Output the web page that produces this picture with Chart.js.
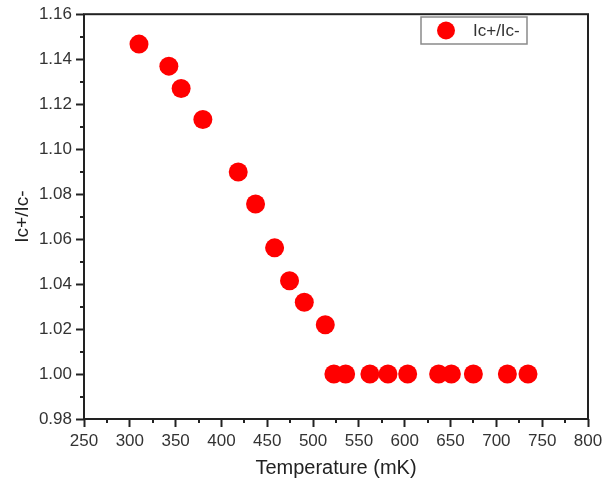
<!DOCTYPE html>
<html>
<head>
<meta charset="utf-8">
<script src="https://cdn.jsdelivr.net/npm/chart.js@4.4.1/dist/chart.umd.min.js"></script>
<style>
  html, body { margin: 0; padding: 0; background: #fff; }
  #wrap { width: 611px; height: 482px; }
</style>
</head>
<body>
<div id="wrap"><canvas id="c" width="611" height="482"></canvas></div>
<script>
// Data
const temperatures = [310, 342.6, 356, 379.7, 418.3, 437.2, 458, 474.3, 490.4, 513.3,
                      522.7, 535.5, 562, 581.7, 603.2, 637, 650.9, 674.9, 712, 734.5];
const ratios = [1.1467, 1.1369, 1.127, 1.1132, 1.0898, 1.0756, 1.0561, 1.0415, 1.0319, 1.0219,
                1.0, 1.0, 1.0, 1.0, 1.0, 1.0, 1.0, 1.0, 1.0, 1.0];
const seriesLabel = 'Ic+/Ic-';
const xTitle = 'Temperature (mK)';
const yTitle = 'Ic+/Ic-';
const xMin = 250, xMax = 800, xStep = 50;
const yMin = 0.98, yMax = 1.16, yStep = 0.02;

const points = temperatures.map((t, i) => ({ x: t, y: ratios[i] }));

const FONT = 'Arial, "Liberation Sans", sans-serif';
const AXIS = '#222';

const framePlugin = {
  id: 'frame',
  afterDraw(chart) {
    const { ctx, chartArea: a, scales: { x, y } } = chart;
    ctx.save();
    // minor ticks
    ctx.strokeStyle = AXIS;
    ctx.lineWidth = 2;
    ctx.beginPath();
    for (let v = xMin + xStep / 2; v < xMax; v += xStep) {
      const px = Math.round(x.getPixelForValue(v));
      ctx.moveTo(px, a.bottom);
      ctx.lineTo(px, a.bottom + 4);
    }
    for (let v = yMin + yStep / 2; v < yMax; v += yStep) {
      const py = Math.round(y.getPixelForValue(v));
      ctx.moveTo(a.left, py);
      ctx.lineTo(a.left - 4, py);
    }
    ctx.stroke();
    // frame
    ctx.lineWidth = 2;
    ctx.strokeRect(a.left, a.top, a.right - a.left, a.bottom - a.top);
    // legend
    const ds = chart.data.datasets[0];
    const bx = 421, by = 17, bw = 106, bh = 27;
    ctx.lineWidth = 1.5;
    ctx.strokeStyle = '#8a8a8a';
    ctx.strokeRect(bx, by, bw, bh);
    ctx.fillStyle = ds.backgroundColor;
    ctx.beginPath();
    ctx.arc(bx + 25, by + bh / 2, 9, 0, Math.PI * 2);
    ctx.fill();
    ctx.fillStyle = '#333';
    ctx.font = '17px ' + FONT;
    ctx.textBaseline = 'middle';
    ctx.textAlign = 'left';
    ctx.fillText(ds.label, bx + 52, by + bh / 2 + 1);
    ctx.restore();
  }
};

new Chart(document.getElementById('c'), {
  type: 'scatter',
  data: {
    datasets: [{
      label: seriesLabel,
      data: points,
      backgroundColor: '#ff0000',
      borderColor: '#ff0000',
      borderWidth: 0,
      pointRadius: 9.5,
      pointHoverRadius: 9.5
    }]
  },
  options: {
    responsive: false,
    animation: false,
    devicePixelRatio: 1,
    layout: { padding: { top: 14, right: 23, left: 0, bottom: 0 } },
    plugins: { legend: { display: false }, tooltip: { enabled: false } },
    scales: {
      x: {
        type: 'linear',
        min: xMin, max: xMax,
        border: { display: false },
        grid: { drawOnChartArea: false, drawTicks: true, tickLength: 8, tickColor: AXIS, tickWidth: 2 },
        ticks: { stepSize: xStep, padding: 4, color: '#333', font: { family: FONT, size: 17 }, maxRotation: 0,
                 callback: v => String(v) },
        title: { display: true, text: xTitle, color: '#222', font: { family: FONT, size: 20 }, padding: { top: 0, bottom: 2 } },
        afterFit(s) { s.height = 63; }
      },
      y: {
        type: 'linear',
        min: yMin, max: yMax,
        border: { display: false },
        grid: { drawOnChartArea: false, drawTicks: true, tickLength: 8, tickColor: AXIS, tickWidth: 2 },
        ticks: { stepSize: yStep, padding: 4, color: '#333', font: { family: FONT, size: 17 },
                 callback: v => v.toFixed(2) },
        title: { display: true, text: yTitle, color: '#222', font: { family: FONT, size: 19 }, padding: { top: 11, bottom: 0 } },
        afterFit(s) { s.width = 84; }
      }
    }
  },
  plugins: [framePlugin]
});
</script>
</body>
</html>
